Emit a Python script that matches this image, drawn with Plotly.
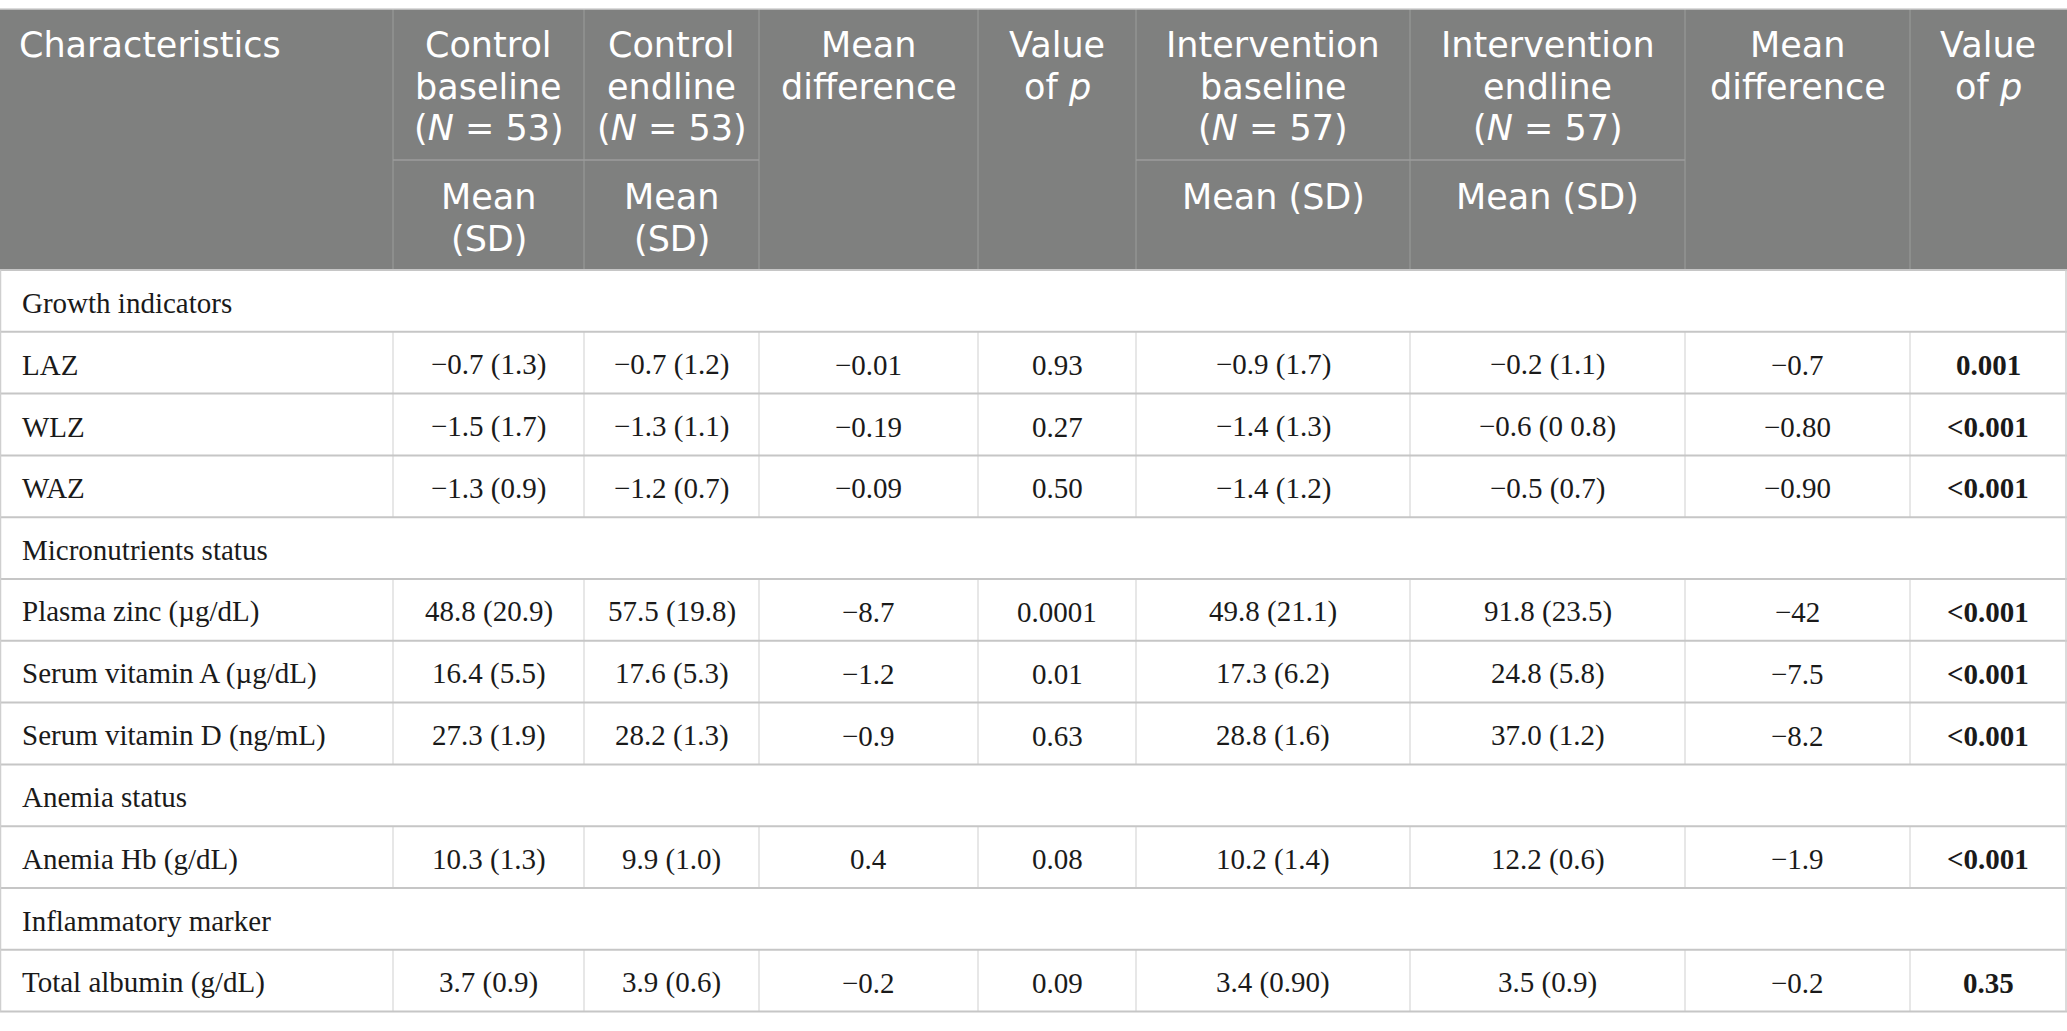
import plotly.graph_objects as go

# Datos de la tabla
secciones = ["Growth indicators", "Micronutrients status", "Anemia status", "Inflammatory marker"]
filas_por_seccion = [3, 3, 1, 1]

caracteristicas = ["LAZ", "WLZ", "WAZ",
                   "Plasma zinc (µg/dL)", "Serum vitamin A (µg/dL)", "Serum vitamin D (ng/mL)",
                   "Anemia Hb (g/dL)",
                   "Total albumin (g/dL)"]
control_baseline = ["−0.7 (1.3)", "−1.5 (1.7)", "−1.3 (0.9)",
                    "48.8 (20.9)", "16.4 (5.5)", "27.3 (1.9)",
                    "10.3 (1.3)", "3.7 (0.9)"]
control_endline = ["−0.7 (1.2)", "−1.3 (1.1)", "−1.2 (0.7)",
                   "57.5 (19.8)", "17.6 (5.3)", "28.2 (1.3)",
                   "9.9 (1.0)", "3.9 (0.6)"]
control_dif = ["−0.01", "−0.19", "−0.09", "−8.7", "−1.2", "−0.9", "0.4", "−0.2"]
control_p = ["0.93", "0.27", "0.50", "0.0001", "0.01", "0.63", "0.08", "0.09"]
interv_baseline = ["−0.9 (1.7)", "−1.4 (1.3)", "−1.4 (1.2)",
                   "49.8 (21.1)", "17.3 (6.2)", "28.8 (1.6)",
                   "10.2 (1.4)", "3.4 (0.90)"]
interv_endline = ["−0.2 (1.1)", "−0.6 (0 0.8)", "−0.5 (0.7)",
                  "91.8 (23.5)", "24.8 (5.8)", "37.0 (1.2)",
                  "12.2 (0.6)", "3.5 (0.9)"]
interv_dif = ["−0.7", "−0.80", "−0.90", "−42", "−7.5", "−8.2", "−1.9", "−0.2"]
interv_p = ["0.001", "<0.001", "<0.001", "<0.001", "<0.001", "<0.001", "<0.001", "0.35"]

encabezados = [["Characteristics"],
               ["Control", "baseline", "(<i>N</i> = 53)"],
               ["Control", "endline", "(<i>N</i> = 53)"],
               ["Mean", "difference"],
               ["Value", "of <i>p</i>"],
               ["Intervention", "baseline", "(<i>N</i> = 57)"],
               ["Intervention", "endline", "(<i>N</i> = 57)"],
               ["Mean", "difference"],
               ["Value", "of <i>p</i>"]]
sub_encabezados = {1: ["Mean", "(SD)"], 2: ["Mean", "(SD)"], 5: ["Mean (SD)"], 6: ["Mean (SD)"]}

# Geometría (píxeles)
W, H = 2067, 1031
bordes_col = [0, 393, 584, 759, 978, 1136, 1410, 1685, 1910, 2066]
y_top, y_sub, y_head = 9, 160, 270
alto_fila = 61.8
interlinea = 41.5

gris_head = "#7f807f"
linea_head = "#9c9d9c"
linea_h = "#c6c6c6"
linea_v = "#cfcfcf"
fuente_head = dict(family="DejaVu Sans", size=35, color="white")
fuente_body = dict(family="Liberation Serif", size=29, color="#1a1a1a")

fig = go.Figure()
shapes = []
annots = []

# 🎨 Encabezado
shapes.append(dict(type="rect", x0=0, x1=W, y0=y_top, y1=y_head,
                   fillcolor=gris_head, line=dict(width=0), layer="below"))
for i in range(1, 9):
    shapes.append(dict(type="line", x0=bordes_col[i], x1=bordes_col[i], y0=y_top, y1=y_head,
                       line=dict(color=linea_head, width=1)))
for i in sub_encabezados:
    shapes.append(dict(type="line", x0=bordes_col[i], x1=bordes_col[i + 1], y0=y_sub, y1=y_sub,
                       line=dict(color=linea_head, width=1.5)))
shapes.append(dict(type="line", x0=0, x1=W, y0=y_top, y1=y_top, line=dict(color=linea_v, width=1.5)))


def lineas_encabezado(i, lineas, y_inicio):
    # una anotación por línea para controlar el interlineado
    for n, txt in enumerate(lineas):
        if i == 0:
            x, xa = bordes_col[0] + 18, "left"
        else:
            x, xa = (bordes_col[i] + bordes_col[i + 1]) / 2, "center"
        annots.append(dict(x=x, y=y_inicio + n * interlinea, text=txt, xanchor=xa, yanchor="middle",
                           borderpad=0, showarrow=False, font=fuente_head))


for i, lineas in enumerate(encabezados):
    lineas_encabezado(i, lineas, y_top + 36)
for i, lineas in sub_encabezados.items():
    lineas_encabezado(i, lineas, y_sub + 37)

# 📋 Cuerpo
columnas = [control_baseline, control_endline, control_dif, control_p,
            interv_baseline, interv_endline, interv_dif, interv_p]
fila = 0
k = 0
for s, n in zip(secciones, filas_por_seccion):
    y0 = y_head + fila * alto_fila
    annots.append(dict(x=20, y=y0 + alto_fila / 2 + 2, text=s, xanchor="left", yanchor="middle",
                       showarrow=False, font=fuente_body))
    fila += 1
    for j in range(n):
        y0 = y_head + fila * alto_fila
        ym = y0 + alto_fila / 2 + 2
        annots.append(dict(x=20, y=ym, text=caracteristicas[k], xanchor="left", yanchor="middle",
                           showarrow=False, font=fuente_body))
        for c, col in enumerate(columnas):
            txt = col[k]
            if c == 7:
                txt = "<b>" + txt.replace("<", "&lt;") + "</b>"
            cx = (bordes_col[c + 1] + bordes_col[c + 2]) / 2
            annots.append(dict(x=cx, y=ym, text=txt, xanchor="center", yanchor="middle",
                               showarrow=False, font=fuente_body))
        for e in bordes_col[1:-1]:
            shapes.append(dict(type="line", x0=e, x1=e, y0=y0, y1=y0 + alto_fila,
                               line=dict(color=linea_v, width=1)))
        fila += 1
        k += 1

n_filas = fila
y_fin = y_head + n_filas * alto_fila
for r in range(n_filas + 1):
    yy = y_head + r * alto_fila
    shapes.append(dict(type="line", x0=0, x1=W, y0=yy, y1=yy, line=dict(color=linea_h, width=2)))
for e in [bordes_col[0] + 0.5, bordes_col[-1]]:
    shapes.append(dict(type="line", x0=e, x1=e, y0=y_head, y1=y_fin, line=dict(color=linea_v, width=1.5)))

fig.update_layout(
    width=W, height=H,
    margin=dict(l=0, r=0, t=0, b=0),
    paper_bgcolor="white", plot_bgcolor="white",
    xaxis=dict(range=[0, W], visible=False, fixedrange=True),
    yaxis=dict(range=[H, 0], visible=False, fixedrange=True),
    shapes=shapes, annotations=annots,
    showlegend=False,
)

fig.write_html("out.html", config={"displayModeBar": False})

# 💾 Quitar el margen por defecto del <body>
with open("out.html", encoding="utf-8") as f:
    html = f.read()
html = html.replace("<body>", '<body style="margin:0;overflow:hidden">', 1)
with open("out.html", "w", encoding="utf-8") as f:
    f.write(html)
